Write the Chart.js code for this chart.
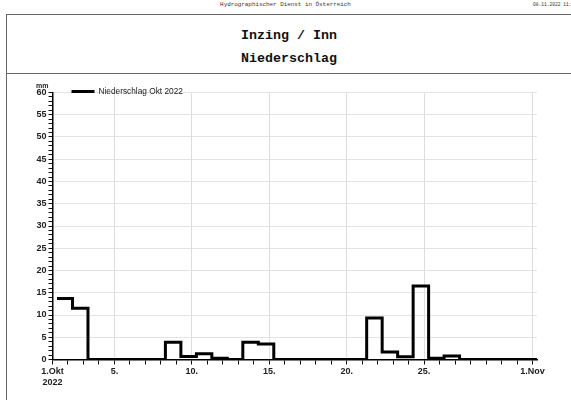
<!DOCTYPE html>
<html>
<head>
  <meta charset="utf-8" />
  <title>Inzing / Inn Niederschlag</title>
  <script src="https://cdn.jsdelivr.net/npm/chart.js"></script>
  <style>
    html, body { margin: 0; padding: 0; background: #fff; }
    body { width: 571px; height: 400px; position: relative; overflow: hidden; }
    .top { position: absolute; top: 1px; left: 0; width: 571px; text-align: center;
           font: 5.9px 'Liberation Mono', monospace; color: #333; }
    .stamp { position: absolute; top: 2px; left: 533px; white-space: nowrap;
             font: 4.6px 'Liberation Mono', monospace; color: #333; }
    .frame { position: absolute; left: 6px; top: 14px; width: 600px; height: 420px;
             border-left: 1.5px solid #666; border-top: 1.5px solid #666; }
    .sep { position: absolute; left: 6px; top: 73px; width: 600px; border-top: 1.5px solid #666; }
    .title { position: absolute; left: 7px; width: 564px; text-align: center;
             font: bold 13.3px 'Liberation Mono', monospace; color: #111; }
    #wrap { position: absolute; left: 7px; top: 76px; width: 564px; height: 324px; }
  </style>
</head>
<body>
  <div class="top">Hydrographischer Dienst in Österreich</div>
  <div class="stamp">08.11.2022 11:00</div>
  <div class="frame"></div>
  <div class="sep"></div>
  <div class="title" style="top:28px">Inzing / Inn</div>
  <div class="title" style="top:51px">Niederschlag</div>
  <div id="wrap"><canvas id="chart"></canvas></div>
  <script>
    // Tagesniederschlag 1.-31. Okt 2022 (mm), jeweils 7:00 bis 7:00
    const days = [1, 2, 3, 4, 5, 6, 7, 8, 9, 10, 11, 12, 13, 14, 15, 16,
                  17, 18, 19, 20, 21, 22, 23, 24, 25, 26, 27, 28, 29, 30, 31];
    const precip = [13.7, 11.5, 0, 0, 0, 0, 0, 3.9, 0.7, 1.3, 0.3, 0, 3.9, 3.5, 0, 0,
                    0, 0, 0, 0, 9.3, 1.7, 0.6, 16.5, 0.3, 0.8, 0, 0, 0, 0, 0];
    const xTickLabels = { 0: ['1.Okt', '2022'], 4: '5.', 9: '10.', 14: '15.', 19: '20.', 24: '25.', 31: '1.Nov' };
    const seriesName = 'Niederschlag Okt 2022';

    const offset = 7 / 24; // Messtag beginnt um 7 Uhr
    const points = days.map((d, i) => ({ x: d - 1 + offset, y: precip[i] }));
    points.push({ x: days.length + offset, y: 0 });

    const tickFont = { family: 'Liberation Sans', size: 9, weight: 'bold' };

    const extras = {
      id: 'extras',
      afterDraw(chart) {
        const ctx = chart.ctx;
        const a = chart.chartArea;
        const y = chart.scales.y;
        const top = y.getPixelForValue(60);
        ctx.save();
        ctx.fillStyle = '#222';
        ctx.font = 'bold 7px Liberation Sans';
        ctx.textAlign = 'right';
        ctx.textBaseline = 'bottom';
        ctx.fillText('mm', a.left - 4, top - 3);
        // legend
        const ly = top - 1;
        ctx.strokeStyle = '#000';
        ctx.lineWidth = 3;
        ctx.beginPath();
        ctx.moveTo(a.left + 19, ly);
        ctx.lineTo(a.left + 42, ly);
        ctx.stroke();
        ctx.font = '8.3px Liberation Sans';
        ctx.textAlign = 'left';
        ctx.textBaseline = 'middle';
        ctx.fillText(seriesName, a.left + 46, ly);
        ctx.restore();
      }
    };

    new Chart(document.getElementById('chart'), {
      type: 'line',
      data: {
        datasets: [{
          label: seriesName,
          data: points,
          stepped: 'before',
          borderColor: '#000',
          borderWidth: 3,
          pointRadius: 0,
          fill: false
        }]
      },
      options: {
        responsive: true,
        maintainAspectRatio: false,
        animation: false,
        layout: { autoPadding: false, padding: { left: 0, top: 16.5, right: 34, bottom: 0 } },
        plugins: { legend: { display: false }, tooltip: { enabled: false } },
        scales: {
          x: {
            type: 'linear',
            min: 0,
            max: days.length + offset,
            afterBuildTicks: axis => { axis.ticks = days.map(d => ({ value: d - 1 })).concat([{ value: 31 }]); },
            afterFit: axis => { axis.height = 40.5; },
            ticks: {
              autoSkip: false,
              maxRotation: 0,
              padding: 2,
              color: '#222',
              font: tickFont,
              callback: v => xTickLabels[v] || ''
            },
            grid: {
              color: c => (c.tick && xTickLabels[c.tick.value] && c.tick.value > 0) ? '#dedede' : 'rgba(0,0,0,0)',
              tickColor: '#111',
              tickLength: 5,
              lineWidth: 1
            },
            border: { color: '#000', width: 1.5 }
          },
          y: {
            min: 0,
            max: 60,
            afterBuildTicks: axis => { axis.ticks = Array.from({ length: 61 }, (_, i) => ({ value: i })); },
            afterFit: axis => { axis.width = 45.5; },
            ticks: {
              autoSkip: false,
              padding: 2,
              color: '#222',
              font: tickFont,
              callback: v => (v % 5 === 0 ? String(v) : '')
            },
            grid: {
              color: c => (c.tick && c.tick.value % 5 === 0 && c.tick.value > 0) ? '#e3e3e3' : 'rgba(0,0,0,0)',
              tickColor: '#111',
              tickLength: 4,
              lineWidth: 1
            },
            border: { color: '#000', width: 1.5 }
          }
        }
      },
      plugins: [extras]
    });
  </script>
</body>
</html>
